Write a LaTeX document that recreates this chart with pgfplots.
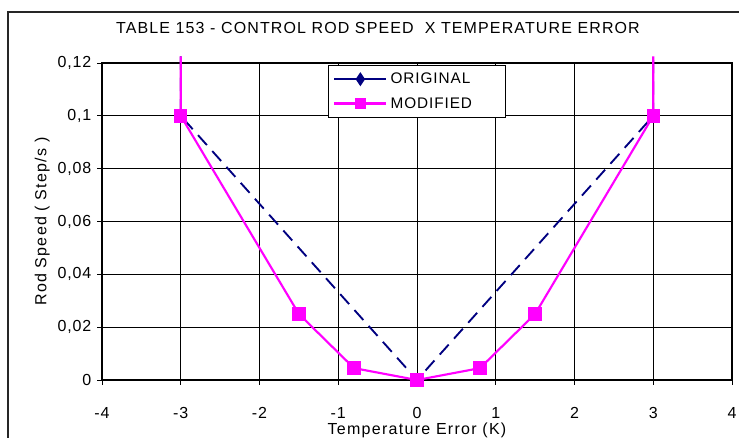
\documentclass[border=0pt]{standalone}
\usepackage{pgfplots}
\pgfplotsset{compat=1.18}
\usepackage{fontspec}
\setmainfont{Liberation Sans}
\definecolor{navy}{RGB}{0,0,128}
\definecolor{mag}{RGB}{255,0,255}
\newcommand{\ttl}{\fontsize{12}{14}\selectfont\addfontfeatures{LetterSpace=7}}
\newcommand{\lbl}{\fontsize{12}{14}\selectfont\addfontfeatures{LetterSpace=8}}
\newcommand{\tck}{\fontsize{12}{14}\selectfont\addfontfeatures{LetterSpace=5}}
\newcommand{\lgd}{\fontsize{11.5}{14}\selectfont\addfontfeatures{LetterSpace=6}}
% legend samples: a solid line with the mark in its middle
\pgfplotsset{
  orig legend/.style={legend image code/.code={
    \draw[navy, line width=1.8pt] (0pt,0pt) -- (39pt,0pt);
    \fill[navy] (19.5pt,4.5pt) -- (22.5pt,0pt) -- (19.5pt,-4.5pt) -- (16.5pt,0pt) -- cycle;}},
  mod legend/.style={legend image code/.code={
    \draw[mag, line width=2.4pt] (0pt,0pt) -- (39pt,0pt);
    \fill[mag] (15.75pt,-3.75pt) rectangle (23.25pt,3.75pt);}},
}
\begin{document}
\begin{tikzpicture}[x=0.75pt,y=0.75pt]
% page extent and chart frame (units: 1 = 0.75pt)
\useasboundingbox (-102,-57) rectangle (637,380);
\begin{scope}
\clip (-102,-57) rectangle (637,380);
\draw[black!85, line width=1.1pt] (-94,-80) rectangle (660,368);
\end{scope}
\node[font=\ttl] at (276,352) {TABLE 153 - CONTROL ROD SPEED\ \ X TEMPERATURE ERROR};
\begin{axis}[
  at={(0,0)}, anchor=south west,
  scale only axis, width=472.5pt, height=237.75pt,
  xmin=-4, xmax=4, ymin=0, ymax=0.12,
  xtick={-4,-3,...,4}, ytick={0,0.02,0.04,0.06,0.08,0.1,0.12},
  grid=major, major grid style={black, line width=0.6pt},
  axis line style={black, line width=0.9pt},
  tick style={black, line width=0.7pt},
  tick align=center, major tick length=7pt,
  xtick pos=bottom, ytick pos=left,
  /pgf/number format/assume math mode=true,
  /pgf/number format/use comma,
  yticklabel style={/pgf/number format/fixed, /pgf/number format/precision=2, font=\tck, xshift=-1pt},
  xticklabel style={font=\tck, anchor=center, yshift=-21pt},
  xlabel={Temperature Error (K)},
  ylabel={Rod Speed ( Step/s )},
  xlabel style={font=\lbl, at={(axis description cs:0.5,-0.158)}, anchor=center},
  ylabel style={font=\lbl, at={(axis description cs:-0.095,0.5)}, anchor=center},
  clip=false,
  legend style={at={(0.359,0.994)}, anchor=north west, draw=black, line width=0.9pt,
    fill=white, font=\lgd, inner xsep=3pt, inner ysep=3.5pt, row sep=5pt,
    cells={anchor=west}},
  legend cell align=left,
]
\addlegendimage{orig legend}
\addlegendentry{ORIGINAL\rule{20pt}{0pt}}
\addlegendimage{mod legend}
\addlegendentry{MODIFIED\rule{20pt}{0pt}}
\addplot[forget plot, navy, line width=1.4pt, dash pattern=on 10pt off 6pt, mark=diamond*, mark size=3pt,
  mark options={solid}, mark indices={2,3,4}]
  coordinates {(-3,0.1225) (-3,0.1) (0,0) (3,0.1) (3,0.1225)};
\addplot[forget plot, mag, line width=1.6pt, mark=square*, mark size=4.2pt, mark indices={2,3,4,5,6,7,8}]
  coordinates {(-3,0.1225) (-3,0.1) (-1.5,0.025) (-0.8,0.0045) (0,0) (0.8,0.0045) (1.5,0.025) (3,0.1) (3,0.1225)};
\end{axis}
\end{tikzpicture}
\end{document}
